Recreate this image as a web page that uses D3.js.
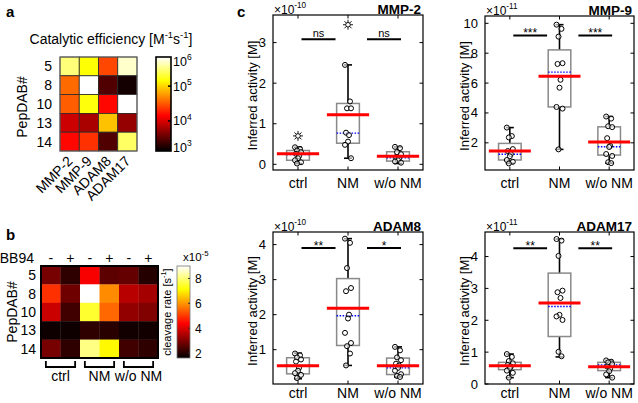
<!DOCTYPE html>
<html><head><meta charset="utf-8">
<script src="https://cdn.jsdelivr.net/npm/d3@7"></script>
<style>body{margin:0;background:#fff}svg{font-family:"Liberation Sans",Arial,Helvetica,sans-serif}</style>
</head><body><svg id="c" width="638" height="403"></svg>
<script>
// ---------------- DATA ----------------
// panel a
const peptides = ["5", "8", "10", "13", "14"];
const proteases = ["MMP-2", "MMP-9", "ADAM8", "ADAM17"];
const catEff = [
  [3.8e5, 1.6e5, 2.7e4, 6.9e5],
  [3.7e4, 1.0e6, 2.0e3, 1.0e3],
  [3.3e4, 1.7e5, 1.5e4, 1.0e6],
  [8.5e3, 5.7e3, 8.3e4, 4.5e3],
  [1.5e4, 2.2e4, 2.0e3, 3.2e5]
];
const effTicks = [3, 4, 5, 6]; // log10
// panel b
const bb94 = ["-", "+", "-", "+", "-", "+"];
const bGroups = ["ctrl", "NM", "w/o NM"];
const cleavage = [ // x1e-5 s^-1
  [2.9, 2.1, 4.3, 2.6, 2.7, 2.0],
  [4.9, 2.8, 9.0, 5.9, 3.6, 3.4],
  [3.8, 2.3, 7.5, 5.5, 3.2, 3.0],
  [1.75, 1.75, 2.1, 2.05, 1.8, 1.8],
  [2.9, 2.1, 8.1, 7.1, 2.3, 2.1]
];
const cleavageTicks = [2, 4, 6, 8];
// panel c
const groups = ["ctrl", "NM", "w/o NM"];
// box stats per group: [whiskerLow, q1, median, q3, whiskerHigh, mean]
const mmp2Box = [[0.02, 0.10, 0.24, 0.34, 0.42, 0.26], [0.15, 0.52, 0.77, 1.50, 2.45, 1.22], [0.02, 0.08, 0.16, 0.31, 0.43, 0.20]];
const mmp2Points = [[0.42, 0.38, 0.34, 0.30, 0.26, 0.20, 0.15, 0.10, 0.05, 0.02], [2.45, 1.55, 1.38, 1.38, 0.78, 0.72, 0.56, 0.48, 0.15], [0.43, 0.40, 0.30, 0.25, 0.18, 0.14, 0.10, 0.07, 0.04]];
const mmp2Outliers = [[0.70], [3.44], []];
const mmp2Sig = ["ns", "ns"];
const mmp2Ticks = [0, 1, 2, 3];

const mmp9Box = [[0.62, 0.85, 1.23, 1.96, 3.02, 1.45], [1.56, 4.40, 6.73, 8.22, 9.91, 6.45], [0.64, 1.18, 1.74, 3.07, 3.76, 2.05]];
const mmp9Points = [[3.02, 2.45, 2.36, 1.58, 1.45, 1.25, 1.10, 0.85, 0.73, 0.62], [9.91, 9.63, 9.11, 7.33, 7.28, 6.22, 5.69, 4.40, 4.29, 1.56], [3.76, 3.62, 3.11, 3.05, 2.31, 1.80, 1.72, 1.25, 1.12, 0.70, 0.64]];
const mmp9Outliers = [[], [], []];
const mmp9Sig = ["***", "***"];
const mmp9Ticks = [2, 4, 6, 8, 10];

const adam8Box = [[0.17, 0.31, 0.55, 0.77, 0.90, 0.54], [0.55, 1.12, 1.97, 3.03, 4.17, 2.18], [0.22, 0.29, 0.48, 0.76, 1.08, 0.54]];
const adam8Points = [[0.89, 0.84, 0.78, 0.72, 0.66, 0.48, 0.40, 0.33, 0.28, 0.19], [4.17, 4.05, 3.33, 2.76, 2.67, 2.00, 1.89, 1.48, 1.19, 1.10, 0.89, 0.55], [1.08, 0.98, 0.78, 0.70, 0.60, 0.55, 0.48, 0.40, 0.30, 0.25, 0.22]];
const adam8Outliers = [[], [], []];
const adam8Sig = ["**", "*"];
const adam8Ticks = [1, 2, 3, 4];

const adam17Box = [[0.20, 0.45, 0.57, 0.68, 0.94, 0.57], [0.85, 1.49, 2.43, 3.48, 4.55, 2.54], [0.20, 0.42, 0.60, 0.68, 0.74, 0.54]];
const adam17Points = [[0.94, 0.85, 0.72, 0.65, 0.60, 0.55, 0.50, 0.42, 0.35, 0.20], [4.55, 4.50, 4.02, 2.93, 2.88, 2.70, 2.17, 2.12, 2.01, 1.01, 0.87], [0.74, 0.70, 0.68, 0.62, 0.55, 0.48, 0.40, 0.30, 0.20]];
const adam17Outliers = [[], [], []];
const adam17Sig = ["**", "**"];
const adam17Ticks = [0, 1, 2, 3, 4];

// ---------------- HELPERS ----------------
const svg = d3.select("#c");
function hot(t) {
  t = Math.max(0, Math.min(1, t));
  const r = Math.min(1, t / 0.375), g = Math.max(0, Math.min(1, (t - 0.375) / 0.375)), b = Math.max(0, Math.min(1, (t - 0.75) / 0.25));
  return d3.rgb(r * 255, g * 255, b * 255).toString();
}
function rich(g, x, y, parts, size, opts = {}) {
  const t = g.append("text").attr("x", x).attr("y", y).attr("font-size", size)
    .attr("text-anchor", opts.anchor || "start").attr("fill", "#000");
  if (opts.weight) t.attr("font-weight", opts.weight);
  if (opts.transform) t.attr("transform", opts.transform);
  let raised = false;
  parts.forEach(([s, sup]) => {
    const ts = t.append("tspan").text(s);
    if (sup) { ts.attr("font-size", size * 0.68); if (!raised) { ts.attr("dy", -0.42 * size); raised = true; } }
    else if (raised) { ts.attr("dy", 0.42 * size); raised = false; }
  });
  return t;
}
const defs = svg.append("defs");
const grad = defs.append("linearGradient").attr("id", "hotg").attr("x1", 0).attr("y1", 1).attr("x2", 0).attr("y2", 0);
d3.range(0, 1.0001, 0.025).forEach(t => grad.append("stop").attr("offset", t).attr("stop-color", hot(t)));

// ---------------- PANEL A ----------------
const A = svg.append("g");
A.append("text").attr("x", 6).attr("y", 17).attr("font-size", 15).attr("font-weight", "bold").text("a");
rich(A, 111, 44, [["Catalytic efficiency [M"], ["-1", 1], ["s"], ["-1", 1], ["]"]], 14, { anchor: "middle" });
const ax = d3.scaleBand().domain(proteases).range([60, 137]);
const ay = d3.scaleBand().domain(peptides).range([57, 151]);
const effT = d3.scaleLinear().domain(effTicks).range([0.03, 0.32, 0.69, 1]).clamp(true);
peptides.forEach((p, i) => proteases.forEach((q, j) => {
  A.append("rect").attr("x", ax(q)).attr("y", ay(p)).attr("width", ax.bandwidth()).attr("height", ay.bandwidth())
    .attr("fill", hot(effT(Math.log10(catEff[i][j])))).attr("stroke", "#2a2a2a").attr("stroke-width", 0.8);
}));
A.append("rect").attr("x", 60).attr("y", 57).attr("width", 77).attr("height", 94).attr("fill", "none").attr("stroke", "#666").attr("stroke-width", 1);
peptides.forEach(p => A.append("text").attr("x", 52).attr("y", ay(p) + ay.bandwidth() / 2 + 5).attr("text-anchor", "end").attr("font-size", 14).text(p));
A.append("text").attr("transform", "translate(27,107) rotate(-90)").attr("text-anchor", "middle").attr("font-size", 14).text("PepDAB#");
proteases.forEach(q => A.append("text").attr("text-anchor", "end").attr("font-size", 14)
  .attr("transform", `translate(${ax(q) + ax.bandwidth() / 2 + 4},162) rotate(-45)`).text(q));
// colorbar a
const cbA = { x: 156, y: 57, w: 15, h: 94 };
A.append("rect").attr("x", cbA.x).attr("y", cbA.y).attr("width", cbA.w).attr("height", cbA.h).attr("fill", "url(#hotg)").attr("stroke", "#000").attr("stroke-width", 1.6);
effTicks.forEach(e => {
  const yy = cbA.y + cbA.h - effT(e) * cbA.h;
  if (e > 3 && e < 6) A.append("line").attr("x1", cbA.x + cbA.w - 3).attr("x2", cbA.x + cbA.w).attr("y1", yy).attr("y2", yy).attr("stroke", "#000").attr("stroke-width", 1.5);
  const ly = Math.max(61, Math.min(147, yy));
  rich(A, 173, ly + 4.5, [["10"], [String(e), 1]], 12.5);
});

// ---------------- PANEL B ----------------
const B = svg.append("g");
B.append("text").attr("x", 6).attr("y", 240).attr("font-size", 15).attr("font-weight", "bold").text("b");
const bx = d3.scaleBand().domain(d3.range(6)).range([41, 158]);
const by = d3.scaleBand().domain(peptides).range([266, 358]);
const bT = d3.scaleLinear().domain([1.6, 9.0]).range([0, 1]).clamp(true);
peptides.forEach((p, i) => bb94.forEach((s, j) => {
  B.append("rect").attr("x", bx(j)).attr("y", by(p)).attr("width", bx.bandwidth() + 0.3).attr("height", by.bandwidth() + 0.3)
    .attr("fill", hot(bT(cleavage[i][j])));
}));
B.append("rect").attr("x", 41).attr("y", 266).attr("width", 117).attr("height", 92).attr("fill", "none").attr("stroke", "#000").attr("stroke-width", 2);
B.append("text").attr("x", 34).attr("y", 263).attr("text-anchor", "end").attr("font-size", 14).text("BB94");
bb94.forEach((s, j) => B.append("text").attr("x", bx(j) + bx.bandwidth() / 2).attr("y", 263).attr("text-anchor", "middle").attr("font-size", 14).text(s));
peptides.forEach(p => B.append("text").attr("x", 36).attr("y", by(p) + by.bandwidth() / 2 + 5).attr("text-anchor", "end").attr("font-size", 14).text(p));
B.append("text").attr("transform", "translate(17,312) rotate(-90)").attr("text-anchor", "middle").attr("font-size", 14).text("PepDAB#");
bGroups.forEach((gname, k) => {
  const xa = bx(2 * k) + bx.bandwidth() * 0.25, xb = bx(2 * k + 1) + bx.bandwidth() * 0.75;
  B.append("path").attr("d", `M${xa},361 V367 H${xb} V361`).attr("fill", "none").attr("stroke", "#000").attr("stroke-width", 1.8);
  B.append("text").attr("x", (xa + xb) / 2).attr("y", 381).attr("text-anchor", "middle").attr("font-size", 14).text(gname);
});
// colorbar b
const cbB = { x: 177, y: 266, w: 13, h: 92 };
const cbBy = d3.scaleLinear().domain([1.6, 9.0]).range([cbB.y + cbB.h, cbB.y]);
B.append("rect").attr("x", cbB.x).attr("y", cbB.y).attr("width", cbB.w).attr("height", cbB.h).attr("fill", "url(#hotg)").attr("stroke", "#777").attr("stroke-width", 0.8);
cleavageTicks.forEach(v => {
  const yy = cbBy(v);
  B.append("line").attr("x1", cbB.x + cbB.w - 2).attr("x2", cbB.x + cbB.w).attr("y1", yy).attr("y2", yy).attr("stroke", "#333");
  B.append("text").attr("x", 195).attr("y", yy + 4.5).attr("font-size", 12).text(v);
});
rich(B, 183, 261, [["x10"], ["-5", 1]], 11.5);
rich(B, 0, 0, [["cleavage rate [s"], ["-1", 1], ["]"]], 11, { anchor: "middle", transform: "translate(171,312) rotate(-90)" });

// ---------------- PANEL C ----------------
svg.append("text").attr("x", 237).attr("y", 17).attr("font-size", 15).attr("font-weight", "bold").text("c");
const panels = [
  { name: "MMP-2", box: mmp2Box, pts: mmp2Points, out: mmp2Outliers, sig: mmp2Sig, sigY: 3.08, exp: "-10", ticks: mmp2Ticks, dom: [-0.14, 3.68], x0: 273, x1: 423, y0: 15, y1: 170 },
  { name: "MMP-9", box: mmp9Box, pts: mmp9Points, out: mmp9Outliers, sig: mmp9Sig, sigY: 9.18, exp: "-11", ticks: mmp9Ticks, dom: [0.18, 10.49], x0: 485, x1: 634, y0: 16, y1: 170 },
  { name: "ADAM8", box: adam8Box, pts: adam8Points, out: adam8Outliers, sig: adam8Sig, sigY: 3.9, exp: "-10", ticks: adam8Ticks, dom: [0.02, 4.36], x0: 273, x1: 423, y0: 232, y1: 384 },
  { name: "ADAM17", box: adam17Box, pts: adam17Points, out: adam17Outliers, sig: adam17Sig, sigY: 4.26, exp: "-11", ticks: adam17Ticks, dom: [0, 4.77], x0: 485, x1: 634, y0: 232, y1: 384 }
];
const jitter = [-3, 2, -1, 3, -2, 1, 0, -3, 3, -1, 2, -2];
panels.forEach(P => {
  const g = svg.append("g");
  const x = d3.scaleLinear().domain([0.5, 3.5]).range([P.x0, P.x1]);
  const y = d3.scaleLinear().domain(P.dom).range([P.y1, P.y0]);
  const bw = (x(1.455) - x(1)), mw = (x(1.845) - x(1));
  P.box.forEach((b, i) => {
    const cx = x(i + 1);
    const [wl, q1, med, q3, wh, mean] = b;
    g.append("line").attr("x1", cx).attr("x2", cx).attr("y1", y(q3)).attr("y2", y(wh)).attr("stroke", "#000").attr("stroke-width", 1.6);
    g.append("line").attr("x1", cx).attr("x2", cx).attr("y1", y(q1)).attr("y2", y(wl)).attr("stroke", "#000").attr("stroke-width", 1.6);
    [wl, wh].forEach(v => g.append("line").attr("x1", cx - 4).attr("x2", cx + 4).attr("y1", y(v)).attr("y2", y(v)).attr("stroke", "#000").attr("stroke-width", 1.6));
    g.append("rect").attr("x", cx - bw / 2).attr("y", y(q3)).attr("width", bw).attr("height", y(q1) - y(q3))
      .attr("fill", "none").attr("stroke", "#8a8a8a").attr("stroke-width", 1.5);
    g.append("line").attr("x1", cx - bw / 2).attr("x2", cx + bw / 2).attr("y1", y(med)).attr("y2", y(med))
      .attr("stroke", "#0000ff").attr("stroke-width", 1.4).attr("stroke-dasharray", "1.5,1.5");
    P.pts[i].forEach((v, k) => g.append("circle").attr("cx", cx + jitter[k % jitter.length]).attr("cy", y(v)).attr("r", 2.5)
      .attr("fill", "#fff").attr("fill-opacity", 0.6).attr("stroke", "#000").attr("stroke-width", 1));
    g.append("line").attr("x1", cx - mw / 2).attr("x2", cx + mw / 2).attr("y1", y(mean)).attr("y2", y(mean))
      .attr("stroke", "#ff0000").attr("stroke-width", 3);
    P.out[i].forEach(v => {
      const oy = y(v);
      g.append("circle").attr("cx", cx).attr("cy", oy).attr("r", 2.3).attr("fill", "none").attr("stroke", "#000").attr("stroke-width", 0.9);
      d3.range(8).forEach(a => {
        const ang = a * Math.PI / 4;
        g.append("line").attr("x1", cx + 2.3 * Math.cos(ang)).attr("y1", oy + 2.3 * Math.sin(ang))
          .attr("x2", cx + 5 * Math.cos(ang)).attr("y2", oy + 5 * Math.sin(ang)).attr("stroke", "#000").attr("stroke-width", 0.9);
      });
    });
  });
  [[1.07, 1.75], [2.38, 3.06]].forEach((s, k) => {
    const yy = y(P.sigY);
    g.append("line").attr("x1", x(s[0])).attr("x2", x(s[1])).attr("y1", yy).attr("y2", yy).attr("stroke", "#000").attr("stroke-width", 2);
    const isStar = P.sig[k].indexOf("*") >= 0;
    g.append("text").attr("x", (x(s[0]) + x(s[1])) / 2).attr("y", isStar ? yy + 1.5 : yy - 2.5).attr("text-anchor", "middle")
      .attr("font-size", isStar ? 12 : 11).text(P.sig[k]);
  });
  g.append("rect").attr("x", P.x0).attr("y", P.y0).attr("width", P.x1 - P.x0).attr("height", P.y1 - P.y0)
    .attr("fill", "none").attr("stroke", "#000").attr("stroke-width", 1.2);
  P.ticks.forEach(t => {
    const yy = y(t);
    g.append("line").attr("x1", P.x0).attr("x2", P.x0 + 3.5).attr("y1", yy).attr("y2", yy).attr("stroke", "#000");
    g.append("line").attr("x1", P.x1 - 3.5).attr("x2", P.x1).attr("y1", yy).attr("y2", yy).attr("stroke", "#000");
    g.append("text").attr("x", P.x0 - 7).attr("y", yy + 4.5).attr("text-anchor", "end").attr("font-size", 13).text(t);
  });
  groups.forEach((gn, i) => {
    const cx = x(i + 1);
    g.append("line").attr("x1", cx).attr("x2", cx).attr("y1", P.y1).attr("y2", P.y1 - 3.5).attr("stroke", "#000");
    g.append("line").attr("x1", cx).attr("x2", cx).attr("y1", P.y0).attr("y2", P.y0 + 3.5).attr("stroke", "#000");
    g.append("text").attr("x", cx).attr("y", Math.min(P.y1 + 18, 398)).attr("text-anchor", "middle").attr("font-size", 14).text(gn);
  });
  rich(g, P.x0 + 1, P.y0 - 1.5, [["\u00d710"], [P.exp, 1]], 12);
  g.append("text").attr("x", P.x1 - 2).attr("y", P.y0 - 1.5).attr("text-anchor", "end").attr("font-size", 13.5).attr("font-weight", "bold").text(P.name);
  g.append("text").attr("transform", `translate(${P.x0 - 16},${(P.y0 + P.y1) / 2 + 3}) rotate(-90)`).attr("text-anchor", "middle")
    .attr("font-size", 13).text("Inferred activity [M]");
});
</script></body></html>
